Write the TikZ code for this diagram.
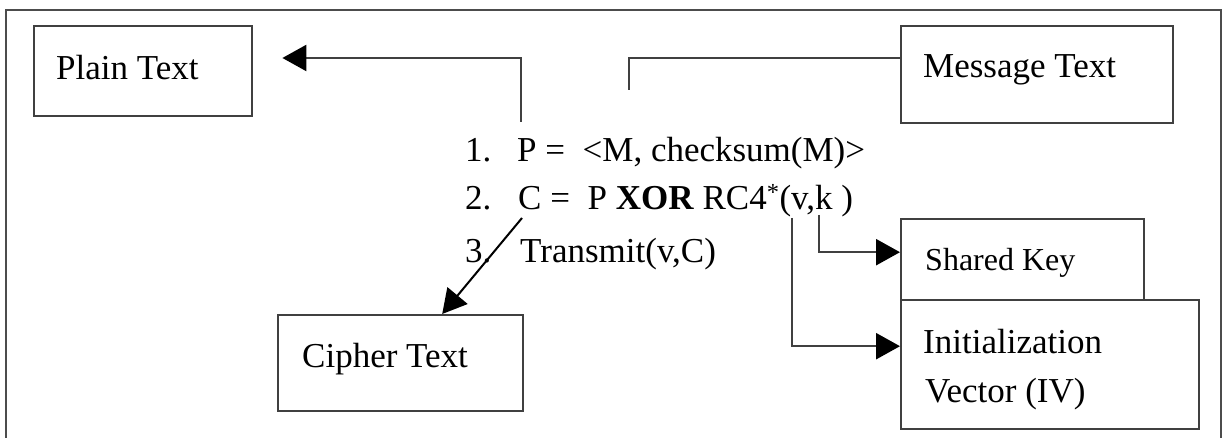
\documentclass[tikz,border=0pt]{standalone}
\usepackage{fontspec}
\setmainfont{Liberation Serif}
\usetikzlibrary{arrows.meta}
\tikzset{
  x=1pt, y=-1pt,
  box/.style={draw=black!75, line width=2.4pt, rectangle, inner sep=0pt, anchor=north west},
  lbl/.style={inner sep=0pt, anchor=base west, font=\fontsize{35}{42}\selectfont},
  small/.style={lbl, font=\fontsize{32}{38}\selectfont},
  link/.style={draw=black!75, line width=2.4pt},
  arr/.style={link, -{Triangle[length=24pt,width=26pt,color=black]}}
}
\begin{document}
\begin{tikzpicture}
\useasboundingbox (0,0) rectangle (1225,438);
% outer frame, open at the bottom
\draw[draw=black!70, line width=2.2pt] (6,445) -- (6,10) -- (1221,10) -- (1221,445);

% boxes
\node[box, minimum width=218pt, minimum height=90pt] (plain) at (33,25) {};
\node[lbl] (plaintxt) at (56,80) {Plain Text};

\node[box, minimum width=272pt, minimum height=97pt] (msg) at (900,25) {};
\node[lbl] (msgtxt) at (923,78) {Message Text};

\node[box, minimum width=245pt, minimum height=96pt] (cipher) at (277,314) {};
\node[lbl] (ciphertxt) at (302,367) {Cipher Text};

\node[box, minimum width=243pt, minimum height=81pt] (shared) at (900,218) {};
\node[small] (sharedtxt) at (925,270) {Shared Key};

\node[box, minimum width=298pt, minimum height=129pt] (iv) at (900,299) {};
\node[lbl] (ivtxt1) at (923,353) {Initialization};
\node[lbl] (ivtxt2) at (925,402) {Vector (IV)};

% the three steps
\node[lbl] (n1) at (465,162) {1.};
\node[lbl] (s1) at (517,162) {P = ~<M, checksum(M)>};
\node[lbl] (n2) at (465,210) {2.};
\node[lbl] (s2) at (518,210) {C = ~P \textbf{XOR} RC4\textsuperscript{*}(v,k )};
\node[lbl] (n3) at (465,262) {3.};
\node[lbl] (s3) at (520,262) {Transmit(v,C)};

% connector end points
\coordinate (pstart) at (521,122);
\coordinate (ptop) at (521,58);
\coordinate (mtop) at (629,58);
\coordinate (mend) at (629,90);
\coordinate (kstart) at (819,215);
\coordinate (vstart) at (792,218);
\coordinate (cstart) at (522,218);

% connectors
\draw[arr, shorten >=29pt] (pstart) -- (ptop) -- (plain.east |- ptop);
\draw[link] (msg.west |- mtop) -- (mtop) -- (mend);
\draw[arr] (kstart) |- ([yshift=7.5pt]shared.west);
\draw[arr] (vstart) |- ([yshift=18.5pt]iv.west);
\draw[arr, draw=black, line width=2pt] (cstart) -- ([xshift=41.5pt]cipher.north);
\end{tikzpicture}
\end{document}
